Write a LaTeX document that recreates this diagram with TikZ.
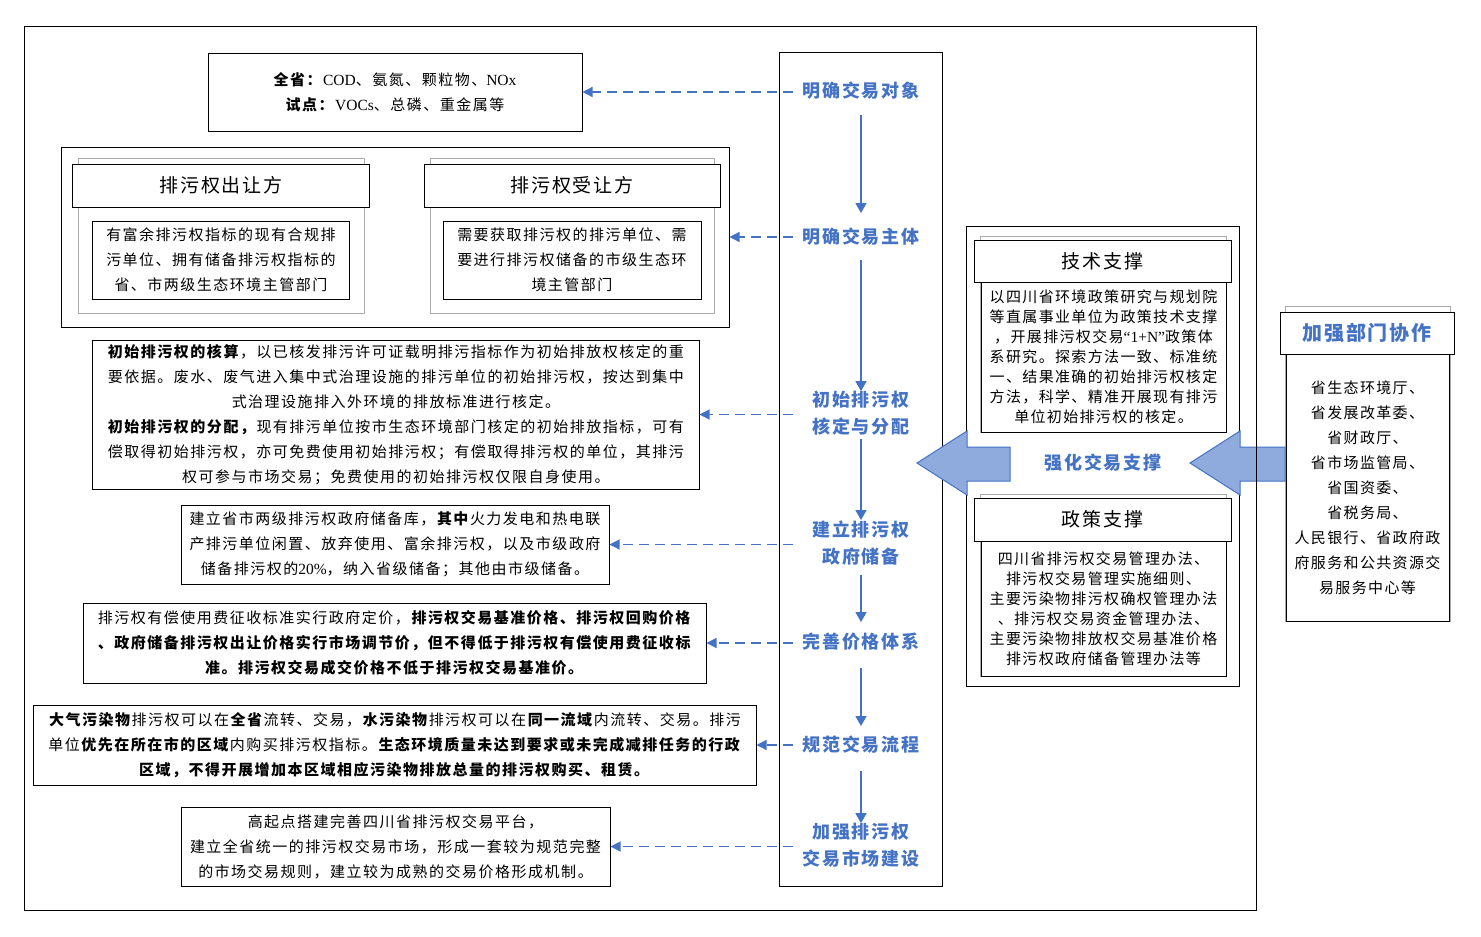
\documentclass[tikz,border=0pt]{standalone}
\usepackage{fontspec}
\setmainfont{Noto Sans CJK SC}
\newfontfamily\bodyf[LetterSpace=10]{Noto Sans CJK SC}
\newfontfamily\rbodyf[LetterSpace=9]{Noto Sans CJK SC}
\newfontfamily\headf[LetterSpace=9]{Noto Sans CJK SC}
\newfontfamily\hdrf[LetterSpace=10]{Noto Sans CJK SC}
\newfontfamily\latf{Liberation Serif}
\newcommand{\lt}[1]{{\latf\fontsize{15.5bp}{20bp}\selectfont #1}}
\usetikzlibrary{arrows.meta}
\definecolor{myblue}{HTML}{4472C4}
\definecolor{arrfill}{HTML}{8FAADC}
\definecolor{greyline}{HTML}{AAAAAA}
\begin{document}
\begin{tikzpicture}[x=1bp,y=-1bp,
  bx/.style={draw=black,line width=1bp,fill=white,inner sep=0pt,align=center,
    font=\bodyf\fontsize{15bp}{25bp}\selectfont},
  rbx/.style={bx,font=\rbodyf\fontsize{15bp}{20bp}\selectfont},
  dbx/.style={bx,font=\rbodyf\fontsize{15bp}{25bp}\selectfont},
  greybox/.style={draw=greyline,line width=1bp,fill=white,inner sep=0pt},
  hdr/.style={draw=black,line width=1bp,fill=white,inner sep=0pt,
    font=\hdrf\fontsize{19bp}{22bp}\selectfont},
  lbl/.style={text=myblue,inner sep=0pt,align=center,
    font=\headf\bfseries\fontsize{18bp}{27bp}\selectfont},
  solarr/.style={draw=myblue,line width=1.5bp,-{Triangle[length=10bp,width=11bp]}},
  dasharr/.style={draw=myblue,line width=1.2bp,dash pattern=on 10bp off 6bp,
    -{Triangle[length=10bp,width=10bp]}},
  bigarr/.style={fill=arrfill,draw=myblue,line width=1bp}
]
\useasboundingbox (0,0) rectangle (1481,936);
\fill[white] (0,0) rectangle (1481,936);

% centre column
\node[draw=black,line width=1bp,minimum width=163bp,minimum height=833bp,inner sep=0pt] (col) at (860.5,469.5) {};

% blue step labels
\node[lbl] (l1) at (861,91) {明确交易对象};
\node[lbl] (l2) at (861,237) {明确交易主体};
\node[lbl] (l3) at (861,413.5) {初始排污权\\核定与分配};
\node[lbl] (l4) at (861,543.5) {建立排污权\\政府储备};
\node[lbl] (l5) at (861,642) {完善价格体系};
\node[lbl] (l6) at (861,745) {规范交易流程};
\node[lbl] (l7) at (861,845.5) {加强排污权\\交易市场建设};

\draw[solarr,shorten <=15bp,shorten >=15bp] (l1.south) -- (l2.north);
\draw[solarr,shorten <=14bp,shorten >=0bp] (l2.south) -- (l3.north);
\draw[solarr,shorten <=3bp,shorten >=1bp] (l3.south) -- (l4.north);
\draw[solarr,shorten <=9bp,shorten >=11bp] (l4.south) -- (l5.north);
\draw[solarr,shorten <=17bp,shorten >=10bp] (l5.south) -- (l6.north);
\draw[solarr,shorten <=17bp,shorten >=0bp] (l6.south) -- (l7.north);

% left boxes
\node[bx,minimum width=374bp,minimum height=78bp] (topbox) at (395,92)
  {\textbf{全省：}\lt{COD}、氨氮、颗粒物、\lt{NOx}\\\textbf{试点：}\lt{VOCs}、总磷、重金属等};

\node[draw=black,line width=1bp,minimum width=667bp,minimum height=180bp,inner sep=0pt] (grp) at (395.5,237) {};
\node[greybox,minimum width=285bp,minimum height=155bp] (gL) at (221.5,235.5) {};
\node[hdr,minimum width=296bp,minimum height=43bp] (hL) at (221,185.5) {排污权出让方};
\node[bx,minimum width=256bp,minimum height=78bp] (tL) at (221,260)
  {有富余排污权指标的现有合规排\\污单位、拥有储备排污权指标的\\省、市两级生态环境主管部门};
\node[greybox,minimum width=284bp,minimum height=155bp] (gR) at (572,235.5) {};
\node[hdr,minimum width=296bp,minimum height=43bp] (hR) at (572,185.5) {排污权受让方};
\node[bx,minimum width=258bp,minimum height=78bp] (tR) at (572,260)
  {需要获取排污权的排污单位、需\\要进行排污权储备的市级生态环\\境主管部门};

\node[bx,minimum width=606bp,minimum height=149bp] (init) at (396,414.5)
  {\textbf{初始排污权的核算}，以已核发排污许可证载明排污指标作为初始排放权核定的重\\
   要依据。废水、废气进入集中式治理设施的排污单位的初始排污权，按达到集中\\
   式治理设施排入外环境的排放标准进行核定。\\
   \textbf{初始排污权的分配，}现有排污单位按市生态环境部门核定的初始排放指标，可有\\
   偿取得初始排污权，亦可免费使用初始排污权；有偿取得排污权的单位，其排污\\
   权可参与市场交易；免费使用的初始排污权仅限自身使用。};

\node[bx,minimum width=428bp,minimum height=79bp] (res) at (395,544.5)
  {建立省市两级排污权政府储备库，\textbf{其中}火力发电和热电联\\
   产排污单位闲置、放弃使用、富余排污权，以及市级政府\\
   储备排污权的\lt{20\%}，纳入省级储备；其他由市级储备。};

\node[bx,minimum width=622bp,minimum height=80bp] (price) at (395,643)
  {排污权有偿使用费征收标准实行政府定价，\textbf{排污权交易基准价格、排污权回购价格}\\
   \textbf{、政府储备排污权出让价格实行市场调节价，但不得低于排污权有偿使用费征收标}\\
   \textbf{准。排污权交易成交价格不低于排污权交易基准价。}};

\node[bx,minimum width=722bp,minimum height=80bp] (proc) at (395,745)
  {\textbf{大气污染物}排污权可以在\textbf{全省}流转、交易，\textbf{水污染物}排污权可以在\textbf{同一流域}内流转、交易。排污\\
   单位\textbf{优先在所在市的区域}内购买排污权指标。\textbf{生态环境质量未达到要求或未完成减排任务的行政}\\
   \textbf{区域，不得开展增加本区域相应污染物排放总量的排污权购买、租赁。}};

\node[bx,minimum width=429bp,minimum height=79bp] (mkt) at (395.5,846.5)
  {高起点搭建完善四川省排污权交易平台，\\
   建立全省统一的排污权交易市场，形成一套较为规范完整\\
   的市场交易规则，建立较为成熟的交易价格形成机制。};

% dashed connectors
\coordinate (s1) at (793,92);
\coordinate (s2) at (793,237);
\coordinate (s3) at (793,414.5);
\coordinate (s4) at (793,544.5);
\coordinate (s5) at (793,643);
\coordinate (s6) at (793,745);
\coordinate (s7) at (793,846.5);
\draw[dasharr] (s1) -- (topbox.east);
\draw[dasharr] (s2) -- (grp.east);
\draw[dasharr] (s3) -- (init.east);
\draw[dasharr] (s4) -- (res.east);
\draw[dasharr] (s5) -- (price.east);
\draw[dasharr] (s6) -- (proc.east);
\draw[dasharr] (s7) -- (mkt.east);

% support group
\node[draw=black,line width=1bp,minimum width=273bp,minimum height=460bp,inner sep=0pt] (sup) at (1102.5,456) {};
\node[greybox,minimum width=246bp,minimum height=196bp] (gT) at (1103,334) {};
\node[hdr,minimum width=257bp,minimum height=42bp] (hT) at (1102.5,261) {技术支撑};
\node[rbx,minimum width=245bp,minimum height=150bp] (tT) at (1103.5,357)
  {以四川省环境政策研究与规划院\\等直属事业单位为政策技术支撑\\，开展排污权交易\lt{“1+N”}政策体\\系研究。探索方法一致、标准统\\一、结果准确的初始排污权核定\\方法，科学、精准开展现有排污\\单位初始排污权的核定。};
\node[greybox,minimum width=246bp,minimum height=182bp] (gP) at (1103,585) {};
\node[hdr,minimum width=257bp,minimum height=43bp] (hP) at (1102.5,519.5) {政策支撑};
\node[rbx,minimum width=245bp,minimum height=135bp] (tP) at (1103.5,608.5)
  {四川省排污权交易管理办法、\\排污权交易管理实施细则、\\主要污染物排污权确权管理办法\\、排污权交易资金管理办法、\\主要污染物排放权交易基准价格\\排污权政府储备管理办法等};
\node[lbl] (lS) at (1103,463) {强化交易支撑};

% department box
\node[greybox,minimum width=165bp,minimum height=315bp] (gD) at (1367.5,463.5) {};
\node[hdr,minimum width=174bp,minimum height=42bp,text=myblue,font=\headf\bfseries\fontsize{20bp}{22bp}\selectfont] (hD) at (1367,333) {加强部门协作};
\node[dbx,minimum width=163bp,minimum height=267bp] (tD) at (1367.5,487.5)
  {省生态环境厅、\\省发展改革委、\\省财政厅、\\省市场监管局、\\省国资委、\\省税务局、\\人民银行、省政府政\\府服务和公共资源交\\易服务中心等};

% block arrows
\draw[bigarr] (917,463) -- (967,431) -- (967,447) -- (1010,447) -- (1010,481) -- (967,481) -- (967,495) -- cycle;
\draw[bigarr] (1190,463) -- (1240,431) -- (1240,447) -- (1285,447) -- (1285,481) -- (1240,481) -- (1240,495) -- cycle;

% outer frame
\node[draw=black,line width=1bp,minimum width=1231bp,minimum height=883bp,inner sep=0pt] (frame) at (640.5,468.5) {};
\end{tikzpicture}
\end{document}
